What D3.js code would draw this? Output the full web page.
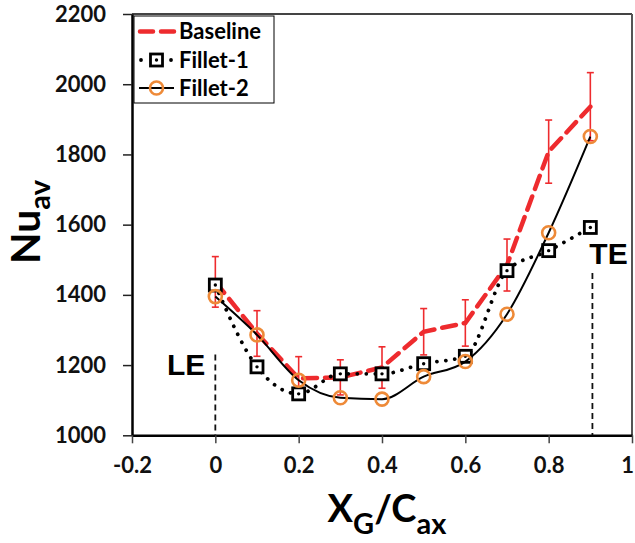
<!DOCTYPE html>
<html>
<head>
<meta charset="utf-8">
<script src="https://cdn.jsdelivr.net/npm/d3@7/dist/d3.min.js"></script>
<style>
  html, body { margin: 0; padding: 0; background: #fff; }
  svg { display: block; }
  .tick text { font-family: Lato, "Open Sans", sans-serif; font-weight: 700; font-size: 22px; fill: #111; }
</style>
</head>
<body>
<svg id="chart" width="635" height="543"></svg>
<script>
// Average Nusselt number along the axial chord
const positions   = [0, 0.1, 0.2, 0.3, 0.4, 0.5, 0.6, 0.7, 0.8, 0.9];
const baseline    = [1437, 1290, 1162, 1165, 1193, 1295, 1320, 1485, 1808, 1936];
const baselineErr = [72, 65, 62, 50, 59, 66, 66, 74, 90, 97];
const fillet1     = [1428, 1195, 1118, 1175, 1175, 1204, 1225, 1469, 1526, 1592];
const fillet2     = [1395, 1286, 1157, 1107, 1103, 1167, 1210, 1345, 1577, 1851];
const xTicks      = [-0.2, 0, 0.2, 0.4, 0.6, 0.8, 1];
const xTickLabels = ["-0.2", "0", "0.2", "0.4", "0.6", "0.8", "1"];
const yTicks      = [1000, 1200, 1400, 1600, 1800, 2000, 2200];
const seriesNames = ["Baseline", "Fillet-1", "Fillet-2"];

const RED = "#ee2b2e", ORANGE = "#ee8a38";

const svg = d3.select("#chart");
const x = d3.scaleLinear().domain([-0.2, 1]).range([132, 632]);
const y = d3.scaleLinear().domain([1000, 2200]).range([435.3, 14]);

// plot frame (top and right)
svg.append("line").attr("x1", x(-0.2)).attr("x2", x(1)).attr("y1", y(2200)).attr("y2", y(2200))
  .attr("stroke", "#444").attr("stroke-width", 2);
svg.append("line").attr("x1", x(1)).attr("x2", x(1)).attr("y1", y(2200)).attr("y2", y(1000))
  .attr("stroke", "#555").attr("stroke-width", 2);

// axes
const yAxis = svg.append("g").attr("transform", `translate(${x(-0.2)},0)`)
  .call(d3.axisLeft(y).tickValues(yTicks).tickSize(9).tickSizeOuter(0).tickPadding(17).tickFormat(d3.format("d")));
yAxis.select(".domain").attr("stroke", "#000").attr("stroke-width", 2.5);
yAxis.selectAll(".tick line").attr("stroke", "#222").attr("stroke-width", 1.5);

const xAxis = svg.append("g").attr("transform", `translate(0,${y(1000)})`)
  .call(d3.axisBottom(x).tickValues(xTicks).tickSize(8).tickSizeOuter(0).tickPadding(14)
    .tickFormat((d, i) => xTickLabels[i]));
xAxis.select(".domain").attr("stroke", "#000").attr("stroke-width", 2.5);
xAxis.selectAll(".tick line").attr("stroke", "#444").attr("stroke-width", 1.5);
// last label sits against the right edge of the page
xAxis.selectAll(".tick text").filter(d => d === 1).attr("text-anchor", "end").attr("dx", 1.5);

// leading / trailing edge markers
const LE = { x: 0, top: 1230, labelY: 1172 };
const TE = { x: 0.905, top: 1462, labelY: 1488 };
[LE, TE].forEach(e => {
  svg.append("line").attr("x1", x(e.x)).attr("x2", x(e.x)).attr("y1", y(e.top)).attr("y2", y(1000))
    .attr("stroke", "#111").attr("stroke-width", 1.8).attr("stroke-dasharray", "6,4");
});
svg.append("text").attr("x", x(LE.x) - 10).attr("y", y(LE.labelY)).attr("text-anchor", "end")
  .attr("font-family", "'Liberation Sans', Arial, sans-serif").attr("font-weight", 700).attr("font-size", 30)
  .attr("fill", "#000").text("LE");
svg.append("text").attr("x", x(0.9) - 1).attr("y", y(TE.labelY)).attr("text-anchor", "start")
  .attr("font-family", "'Liberation Sans', Arial, sans-serif").attr("font-weight", 700).attr("font-size", 30)
  .attr("fill", "#000").text("TE");

// error bars on the baseline
const eb = svg.append("g").attr("stroke", RED).attr("stroke-width", 1.6);
positions.forEach((p, i) => {
  const lo = baseline[i] - baselineErr[i], hi = baseline[i] + baselineErr[i];
  eb.append("line").attr("x1", x(p)).attr("x2", x(p)).attr("y1", y(lo)).attr("y2", y(hi));
  eb.append("line").attr("x1", x(p) - 3.5).attr("x2", x(p) + 3.5).attr("y1", y(lo)).attr("y2", y(lo));
  eb.append("line").attr("x1", x(p) - 3.5).attr("x2", x(p) + 3.5).attr("y1", y(hi)).attr("y2", y(hi));
});

const pts = vals => positions.map((p, i) => [p, vals[i]]);
const linear = d3.line().x(d => x(d[0])).y(d => y(d[1]));
const smooth = d3.line().x(d => x(d[0])).y(d => y(d[1])).curve(d3.curveMonotoneX);

// Baseline
svg.append("path").attr("d", linear(pts(baseline))).attr("fill", "none")
  .attr("stroke", RED).attr("stroke-width", 4.5).attr("stroke-dasharray", "14,8").attr("stroke-linecap", "round");

// Fillet-1
svg.append("path").attr("d", smooth(pts(fillet1))).attr("fill", "none")
  .attr("stroke", "#000").attr("stroke-width", 3.8).attr("stroke-dasharray", "0.01,9").attr("stroke-linecap", "round");
function square(g, cx, cy) {
  g.append("rect").attr("x", cx - 6).attr("y", cy - 6).attr("width", 12).attr("height", 12)
    .attr("fill", "#fff").attr("stroke", "#000").attr("stroke-width", 2.8);
  g.append("circle").attr("cx", cx).attr("cy", cy).attr("r", 1.7).attr("fill", "#000");
}
const f1 = svg.append("g");
positions.forEach((p, i) => square(f1, x(p), y(fillet1[i])));

// Fillet-2
svg.append("path").attr("d", smooth(pts(fillet2))).attr("fill", "none")
  .attr("stroke", "#000").attr("stroke-width", 2);
function ring(g, cx, cy) {
  g.append("circle").attr("cx", cx).attr("cy", cy).attr("r", 6.5)
    .attr("fill", "none").attr("stroke", ORANGE).attr("stroke-width", 2.6);
}
const f2 = svg.append("g");
positions.forEach((p, i) => ring(f2, x(p), y(fillet2[i])));

// legend
const lg = svg.append("g");
lg.append("rect").attr("x", 134).attr("y", 16).attr("width", 140).attr("height", 87)
  .attr("fill", "#fff").attr("stroke", "#000").attr("stroke-width", 1);
const rowY = [31.5, 60, 88];
lg.append("line").attr("x1", 140).attr("x2", 175).attr("y1", rowY[0]).attr("y2", rowY[0])
  .attr("stroke", RED).attr("stroke-width", 4.5).attr("stroke-dasharray", "13,8").attr("stroke-linecap", "round");
lg.append("line").attr("x1", 141).attr("x2", 172).attr("y1", rowY[1]).attr("y2", rowY[1])
  .attr("stroke", "#000").attr("stroke-width", 3.8).attr("stroke-dasharray", "0.01,30").attr("stroke-linecap", "round");
square(lg, 156.5, rowY[1]);
lg.append("line").attr("x1", 139).attr("x2", 174).attr("y1", rowY[2]).attr("y2", rowY[2])
  .attr("stroke", "#000").attr("stroke-width", 2);
ring(lg, 156.5, rowY[2]);
seriesNames.forEach((n, i) => {
  lg.append("text").attr("x", 179).attr("y", rowY[i]).attr("dy", "0.36em")
    .attr("font-family", "Lato, 'Open Sans', sans-serif").attr("font-weight", 700).attr("font-size", 22)
    .attr("fill", "#000").text(n);
});

// axis titles
const titleFont = "Lato, 'Open Sans', sans-serif";
const xt = svg.append("text").attr("x", 387).attr("y", 522).attr("text-anchor", "middle")
  .attr("font-family", titleFont).attr("font-weight", 700).attr("font-size", 38).attr("fill", "#000");
xt.append("tspan").text("X");
xt.append("tspan").attr("font-size", 29).attr("dy", 12).text("G");
xt.append("tspan").attr("dy", -12).text("/C");
xt.append("tspan").attr("font-size", 29).attr("dy", 12).text("ax");

const yt = svg.append("text").attr("transform", "translate(40,222) rotate(-90)").attr("text-anchor", "middle")
  .attr("font-family", titleFont).attr("font-weight", 700).attr("font-size", 41).attr("fill", "#000");
yt.append("tspan").text("Nu");
yt.append("tspan").attr("font-size", 29).attr("dy", 10).text("av");
</script>
</body>
</html>
